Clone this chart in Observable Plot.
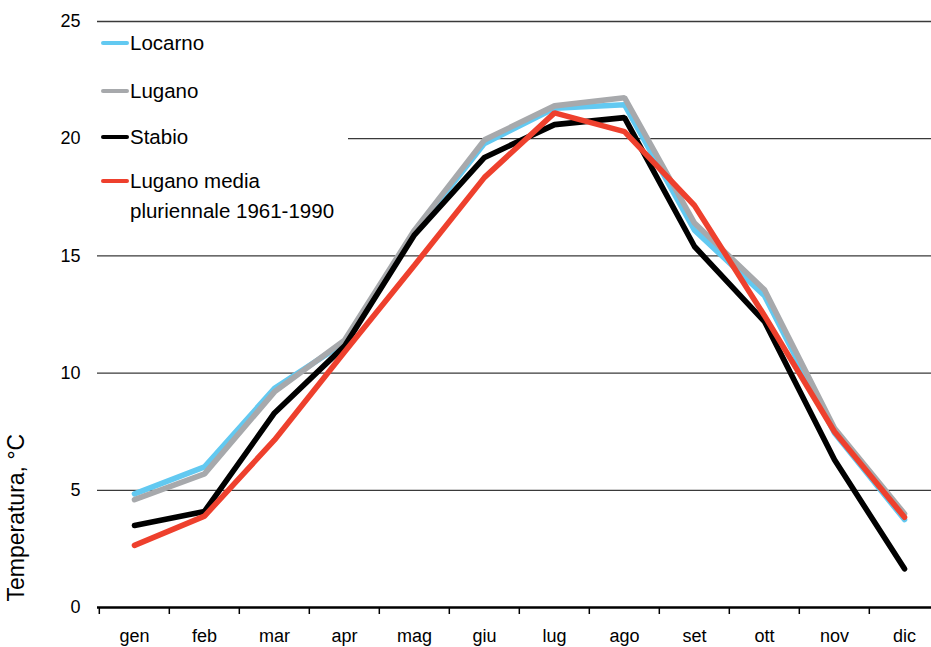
<!DOCTYPE html>
<html>
<head>
<meta charset="utf-8">
<script src="https://cdn.jsdelivr.net/npm/d3@7"></script>
<script src="https://cdn.jsdelivr.net/npm/@observablehq/plot@0.6"></script>
<style>
html, body { margin: 0; padding: 0; background: #fff; overflow: hidden; }
#wrap { position: relative; width: 931px; height: 647px; overflow: hidden; }
#wrap svg { overflow: hidden; }
#legend { position: absolute; left: 97px; top: 27px; width: 251px; height: 210px; background: #fff;
  font-family: "Liberation Sans", Arial, sans-serif; font-size: 20.5px; color: #000; line-height: 30px; }
.item { position: absolute; left: 0; }
.sw { position: absolute; left: 4px; width: 28px; height: 4px; border-radius: 2px; }
.lbl { position: absolute; left: 33px; white-space: nowrap; }
</style>
</head>
<body>
<div id="wrap"><div id="legend"></div></div>
<script>
const months = ["gen", "feb", "mar", "apr", "mag", "giu", "lug", "ago", "set", "ott", "nov", "dic"];
const seriesNames = ["Locarno", "Lugano", "Stabio", "Lugano media pluriennale 1961-1990"];
const seriesColors = ["#62c9f1", "#a7a9ac", "#000000", "#ee402d"];
const locarno = [4.85, 6.0, 9.35, 11.3, 16.0, 19.8, 21.3, 21.45, 16.1, 13.3, 7.45, 3.75];
const lugano = [4.6, 5.7, 9.2, 11.4, 16.1, 19.95, 21.4, 21.75, 16.4, 13.55, 7.65, 4.0];
const stabio = [3.5, 4.1, 8.3, 11.15, 15.9, 19.2, 20.6, 20.9, 15.4, 12.2, 6.3, 1.65];
const luganoMedia = [2.65, 3.9, 7.15, 10.9, 14.6, 18.35, 21.1, 20.3, 17.15, 12.45, 7.5, 3.85];
const yTicks = [0, 5, 10, 15, 20, 25];
const legendLines = [["Locarno"], ["Lugano"], ["Stabio"], ["Lugano media", "pluriennale 1961-1990"]];

const valuesBySeries = [locarno, lugano, stabio, luganoMedia];
const table = seriesNames.map((name, s) => months.map((m, i) => ({series: name, month: m, value: valuesBySeries[s][i]})));

const xRange = [97, 941.6];
const step = (xRange[1] - xRange[0]) / months.length;

const chart = Plot.plot({
  width: 931,
  height: 647,
  marginLeft: 97,
  marginRight: 0,
  marginTop: 21,
  marginBottom: 40,
  style: {fontFamily: "'Liberation Sans', Arial, sans-serif", fontSize: "18px", color: "#000", background: "#fff"},
  x: {type: "point", domain: months, range: xRange, padding: 0.5, label: null},
  y: {domain: [0, 25], ticks: yTicks, label: null},
  marks: [
    Plot.gridY(yTicks.filter(d => d > 0), {stroke: "#3a3a3a", strokeOpacity: 1, strokeWidth: 1.3}),
    Plot.axisY({ticks: yTicks, tickSize: 0, tickPadding: 17, label: null, fontSize: 18}),
    Plot.axisX({tickSize: 7, tickFormat: () => "", dx: -step / 2, label: null, strokeWidth: 1.5}),
    Plot.axisX({tickSize: 0, tickPadding: 22, label: null, fontSize: 18}),
    Plot.ruleY([0], {stroke: "#000", strokeWidth: 2.6}),
    ...table.map((rows, s) => Plot.line(rows, {
      x: "month", y: "value", stroke: seriesColors[s], strokeWidth: 5.6,
      strokeLinejoin: "miter", strokeLinecap: "round"
    })),
    Plot.text(["Temperatura, °C"], {frameAnchor: "bottom-left", rotate: -90, textAnchor: "start",
      dx: -74, dy: -6, fontSize: 23})
  ]
});
document.getElementById("wrap").prepend(chart);

const legend = document.getElementById("legend");
const itemTops = [1, 48.7, 95, 139.3];
legendLines.forEach((lines, i) => {
  const item = document.createElement("div");
  item.className = "item";
  item.style.top = itemTops[i] + "px";
  const sw = document.createElement("div");
  sw.className = "sw";
  sw.style.top = "13px";
  sw.style.background = seriesColors[i];
  const lbl = document.createElement("div");
  lbl.className = "lbl";
  lbl.innerHTML = lines.join("<br>");
  item.appendChild(sw);
  item.appendChild(lbl);
  legend.appendChild(item);
});
</script>
</body>
</html>
